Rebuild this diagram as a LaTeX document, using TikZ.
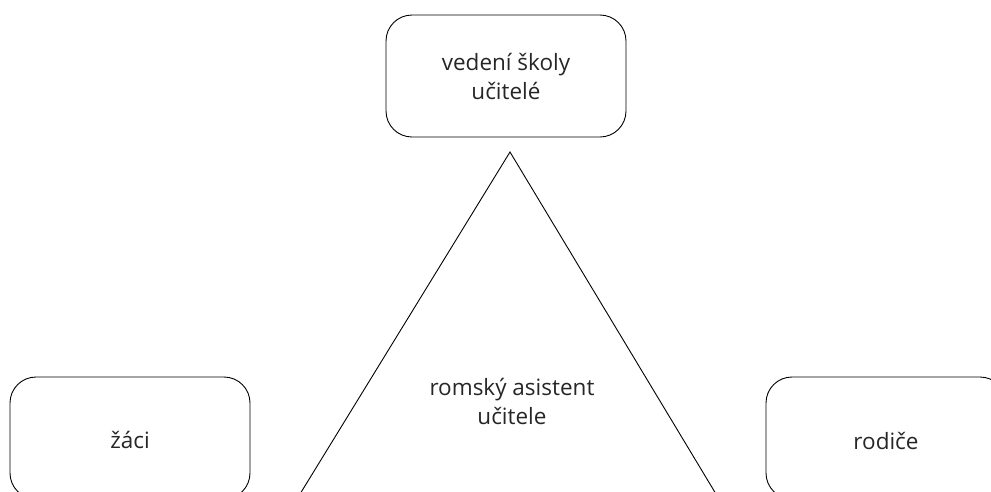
\documentclass[tikz,border=0pt]{standalone}
\usepackage{fontspec}
\setmainfont{Open Sans}
\begin{document}
\begin{tikzpicture}[x=1pt,y=-1pt,
  roundbox/.style={draw, line width=0.9pt, rounded corners=26pt,
    minimum width=240pt, minimum height=122pt, inner sep=0pt},
  boxtext/.style={align=center, font=\fontsize{22.5}{29}\selectfont, text=black!85}]
  \useasboundingbox (0,0) rectangle (991,491);
  \clip (0,0) rectangle (991,491);
  % role boxes
  \node[roundbox] (lead) at (506,76) {};
  \node[boxtext] at (506,76) {vedení školy\\učitelé};
  \node[roundbox] (pupils) at (130,438) {};
  \node[boxtext] at (130,440) {žáci};
  \node[roundbox] (parents) at (886,438) {};
  \node[boxtext] at (886,441) {rodiče};
  % central triangle with the assistant
  \coordinate (apex) at (510,152);
  \coordinate (bl) at (300,494);
  \coordinate (br) at (716,494);
  \draw[line width=0.9pt] (bl) -- (apex) -- (br);
  \node[boxtext] (assist) at (512,401) {romský asistent\\učitele};
\end{tikzpicture}
\end{document}
